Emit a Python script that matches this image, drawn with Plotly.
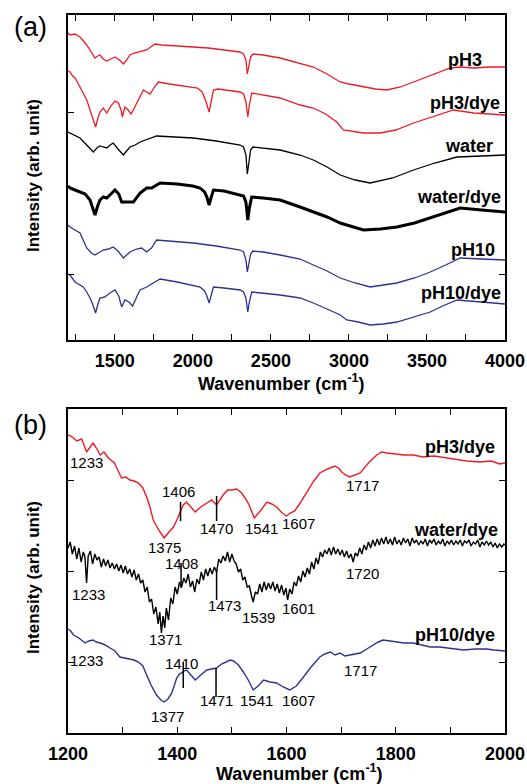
import plotly.graph_objects as go

W, H = 527, 784

# ---------------- Panel (a) data (arbitrary offset intensity) ----------------
a_ph3_x = [1200,1213,1245,1277,1320,1350,1373,1390,1405,1425,1448,1475,1501,1530,1555,1575,1597,1625,1651,1680,1704,1730,1758,1800,1900,2000,2100,2200,2300,2325,2340,2349,2358,2370,2385,2450,2559,2687,2772,2860,2944,3000,3093,3170,3243,3330,3414,3530,3649,3713,3800,3900,4000]
a_ph3_y = [307,305,306,303,295,287,282,284,285,281,279,281,283,280,276,280,285,287,288,289,290,293,296,295,294,293,292,290,288,286,280,266,272,283,286,285,282,277,273,266,258,256,253,251,250,253,258,265,272,273,272,273,273]

a_ph3dye_x = [1200,1213,1230,1245,1260,1280,1298,1320,1341,1360,1377,1392,1405,1426,1448,1475,1501,1523,1540,1548,1565,1585,1604,1625,1651,1683,1704,1726,1750,1779,1850,1950,2030,2060,2085,2104,2118,2132,2160,2250,2303,2325,2340,2352,2362,2377,2450,2559,2687,2772,2850,2922,2965,3093,3200,3300,3414,3550,3670,3800,3900,4000]
a_ph3dye_y = [269,268,264,262,258,252,248,240,230,220,213,222,228,232,227,234,239,237,230,223,233,230,226,232,240,250,248,246,252,258,256,254,252,248,238,228,238,250,251,249,248,246,238,223,235,247,245,242,235,232,226,218,210,207,207,210,217,224,230,227,226,225]

a_water_x = [1200,1213,1277,1320,1362,1385,1405,1425,1448,1470,1490,1520,1555,1575,1597,1630,1662,1768,1900,2003,2150,2303,2325,2340,2349,2358,2370,2385,2450,2559,2687,2772,2860,2944,3040,3136,3280,3414,3550,3692,3850,4000]
a_water_y = [208,207,202,195,188,192,194,193,192,195,197,191,185,189,193,195,198,204,203,202,199,195,193,185,166,175,190,193,192,190,185,180,173,165,160,157,162,170,177,183,184,185]

a_waterdye_x = [1200,1213,1245,1277,1310,1341,1360,1373,1390,1405,1426,1448,1475,1501,1525,1544,1576,1619,1662,1704,1736,1790,1900,2000,2046,2075,2090,2104,2118,2132,2200,2303,2325,2340,2352,2362,2377,2450,2559,2687,2772,2860,2944,3093,3200,3307,3420,3521,3620,3713,3850,4000]
a_waterdye_y = [154,152,150,148,146,140,132,125,134,140,143,142,146,150,146,138,138,138,147,152,152,157,156,154,152,148,143,135,143,150,149,145,144,138,120,132,143,142,140,133,128,123,117,110,111,113,117,122,127,132,130,128]

a_ph10_x = [1200,1213,1245,1277,1320,1350,1373,1400,1426,1460,1490,1520,1555,1575,1597,1640,1672,1704,1735,1768,1900,2003,2150,2303,2325,2340,2349,2358,2370,2385,2450,2559,2687,2772,2860,2944,3040,3136,3220,3307,3420,3521,3620,3713,3850,4000]
a_ph10_y = [115,113,110,107,92,87,85,88,90,91,93,89,82,85,88,91,92,88,92,100,98,97,94,90,88,80,68,75,86,89,88,85,81,75,69,62,57,53,55,57,62,68,75,82,81,80]

a_ph10dye_x = [1200,1213,1245,1270,1298,1320,1341,1360,1377,1392,1405,1437,1469,1501,1525,1544,1565,1590,1614,1640,1662,1704,1750,1790,1900,2000,2046,2075,2090,2104,2118,2132,2200,2303,2325,2340,2352,2362,2377,2450,2559,2687,2772,2860,2944,2986,3060,3136,3220,3307,3420,3521,3600,3692,3850,4000]
a_ph10dye_y = [66,65,58,56,53,48,42,35,27,36,42,43,47,50,44,33,40,38,34,43,50,53,57,61,58,55,53,49,44,37,45,53,52,50,48,42,28,38,48,47,45,42,37,31,25,20,18,15,16,18,23,28,34,40,38,36]

a_names = ["pH3", "pH3/dye", "water", "water/dye", "pH10", "pH10/dye"]
a_label_x = [3867, 3982, 3937, 3988, 3950, 3988]
a_label_y = [280, 237, 194, 143, 90, 47]

# ---------------- Panel (b) data ----------------
b_ph3dye_x = [1200,1208,1216,1225,1234,1240,1246,1252,1259,1266,1274,1285,1298,1306,1313,1321,1329,1337,1344,1350,1356,1366,1376,1385,1393,1400,1406,1411,1417,1425,1433,1443,1454,1463,1472,1478,1484,1492,1500,1509,1518,1530,1541,1552,1564,1573,1582,1592,1600,1607,1615,1625,1640,1650,1661,1675,1689,1695,1701,1708,1716,1725,1735,1750,1765,1775,1783,1800,1815,1832,1850,1870,1893,1910,1930,1954,1975,1990,2000]
b_ph3dye_y = [298,296,292,294,281,286,290,285,278,281,275,270,255,256,253,252,250,245,236,226,213,203,195,201,206,214,221,228,231,226,221,226,230,233,228,233,238,243,243,244,240,230,215,222,231,229,226,220,217,220,222,230,243,252,260,264,267,265,261,258,256,258,260,270,278,281,280,279,278,278,276,277,275,274,272,271,272,269,270]

# water/dye (b): (wavenumber, intensity) pairs
b_waterdye = [
    (1200,185),(1204,191),(1208,179),(1212,187),(1216,174),(1220,185),(1224,171),(1228,181),
    (1231,176),(1234,150),(1237,177),(1241,182),(1245,169),(1249,179),(1253,173),(1257,176),
    (1261,166),(1265,174),(1269,167),(1273,173),(1277,165),(1281,170),(1285,164),(1289,169),
    (1293,162),(1297,168),(1301,160),(1305,167),(1309,159),(1313,164),(1317,156),(1321,163),
    (1325,153),(1329,159),(1333,150),(1337,153),(1341,141),(1345,146),(1349,131),(1353,134),
    (1357,119),(1361,126),(1365,109),(1368,121),(1371,100),(1374,117),(1377,105),(1380,125),
    (1384,113),(1388,135),(1392,129),(1396,146),(1400,139),(1404,151),(1408,146),(1412,155),
    (1416,150),(1420,159),(1424,146),(1428,152),(1432,141),(1436,154),(1440,149),(1444,161),
    (1448,153),(1452,164),(1456,157),(1460,165),(1464,159),(1468,166),(1472,161),(1476,174),
    (1480,170),(1484,177),(1488,172),(1492,181),(1496,171),(1500,179),(1504,172),(1508,169),
    (1512,161),(1516,164),(1520,153),(1524,156),(1528,146),(1532,147),(1536,137),(1539,131),
    (1543,141),(1547,139),(1551,149),(1555,141),(1559,151),(1563,143),(1567,150),(1571,144),
    (1575,151),(1579,142),(1583,149),(1587,140),(1591,148),(1595,138),(1599,145),(1602,133),
    (1606,144),(1610,139),(1614,151),(1618,147),(1622,157),(1626,151),(1630,162),(1634,156),
    (1638,165),(1642,159),(1646,171),(1650,164),(1654,175),(1658,169),(1662,181),(1666,176),
    (1670,183),(1674,179),(1678,185),(1682,178),(1686,186),(1690,179),(1694,184),(1698,178),
    (1702,183),(1706,176),(1710,182),(1714,175),(1718,179),(1722,171),(1726,180),(1730,177),
    (1734,185),(1738,179),(1742,188),(1746,183),(1750,191),(1754,185),(1758,193),(1762,187),
    (1766,194),(1770,188),(1774,195),(1778,189),(1782,196),(1786,189),(1790,194),(1794,188),
    (1798,196),(1802,189),(1806,193),(1810,188),(1814,195),(1818,190),(1822,194),(1826,187),
    (1830,195),(1834,190),(1838,193),(1842,188),(1846,192),(1850,189),(1854,194),(1858,187),
    (1862,193),(1866,190),(1870,194),(1874,188),(1878,192),(1882,189),(1886,194),(1890,187),
    (1894,192),(1898,189),(1902,193),(1906,188),(1910,192),(1914,189),(1918,193),(1922,187),
    (1926,192),(1930,190),(1934,193),(1938,187),(1942,191),(1946,189),(1950,193),(1954,186),
    (1958,191),(1962,188),(1966,192),(1970,188),(1974,191),(1978,186),(1982,190),(1986,185),
    (1990,189),(1994,186),(1998,189),(2000,188),
]
b_waterdye_x = [p[0] for p in b_waterdye]
b_waterdye_y = [p[1] for p in b_waterdye]

b_ph10dye_x = [1200,1205,1210,1220,1231,1238,1246,1252,1259,1268,1277,1286,1295,1304,1313,1321,1329,1337,1344,1352,1362,1370,1376,1383,1390,1395,1399,1404,1408,1412,1417,1425,1433,1443,1454,1463,1472,1481,1491,1497,1503,1512,1521,1530,1539,1548,1558,1570,1582,1594,1606,1618,1631,1645,1661,1670,1680,1689,1698,1707,1716,1725,1735,1747,1759,1768,1777,1790,1802,1815,1832,1850,1863,1880,1893,1910,1924,1945,1966,1980,2000]
b_ph10dye_y = [104,102,98,95,90,92,93,91,90,88,85,82,76,75,74,73,71,67,58,48,38,33,31,34,40,48,55,59,60,62,63,58,53,58,63,64,65,69,72,73,72,68,61,53,43,47,53,51,50,46,43,47,56,66,76,79,81,78,80,77,78,79,80,84,88,91,93,92,91,90,90,88,86,86,85,84,83,84,84,83,82]

b_names = ["pH3/dye", "water/dye", "pH10/dye"]
b_label_x = [1986, 1991, 1986]
b_label_y = [286, 203, 98]

peak_text = ["1233","1406","1375","1470","1541","1607","1717",
             "1233","1408","1371","1473","1539","1601","1720",
             "1233","1410","1377","1471","1541","1607","1717"]
peak_x = [1233,1403,1376,1472,1555,1622,1740,
          1237,1408,1378,1487,1548,1622,1739,
          1234,1408,1382,1472,1545,1622,1735]
peak_y = [270,241,186,205,205,210,247,
          139,170,94,128,116,125,160,
          73,70,17,33,33,33,63]

mark_x = [1406, 1472, 1407, 1472, 1411, 1471]
mark_top = [231, 237, 170, 163, 71, 65]
mark_bot = [212, 212, 145, 133, 45, 36]

RED = "#ed1c24"
BLK = "#000000"
BLU = "#2e3192"
FONT = "Liberation Sans, Arial, sans-serif"

fig = go.Figure()

a_sets = [(a_ph3_x, a_ph3_y, RED, 1.3), (a_ph3dye_x, a_ph3dye_y, RED, 1.3),
          (a_water_x, a_water_y, BLK, 1.3), (a_waterdye_x, a_waterdye_y, BLK, 3.0),
          (a_ph10_x, a_ph10_y, BLU, 1.3), (a_ph10dye_x, a_ph10dye_y, BLU, 1.3)]
for (xs, ys, c, w), n in zip(a_sets, a_names):
    fig.add_trace(go.Scatter(x=xs, y=ys, mode="lines", line=dict(color=c, width=w),
                             name=n, xaxis="x", yaxis="y", showlegend=False))

b_sets = [(b_ph3dye_x, b_ph3dye_y, RED), (b_waterdye_x, b_waterdye_y, BLK),
          (b_ph10dye_x, b_ph10dye_y, BLU)]
for (xs, ys, c), n in zip(b_sets, b_names):
    fig.add_trace(go.Scatter(x=xs, y=ys, mode="lines", line=dict(color=c, width=1.4),
                             name=n, xaxis="x2", yaxis="y2", showlegend=False))

# peak marker lines
mx, my = [], []
for x0, t, b in zip(mark_x, mark_top, mark_bot):
    mx += [x0, x0, None]
    my += [t, b, None]
fig.add_trace(go.Scatter(x=mx, y=my, mode="lines", line=dict(color=BLK, width=1.5),
                         xaxis="x2", yaxis="y2", showlegend=False, hoverinfo="skip"))

ann = []
for t, x0, y0 in zip(a_names, a_label_x, a_label_y):
    ann.append(dict(x=x0, y=y0, xref="x", yref="y", text=t, showarrow=False,
                    xanchor="right", yanchor="middle",
                    font=dict(family=FONT, size=18, color=BLK, weight="bold")))
for t, x0, y0 in zip(b_names, b_label_x, b_label_y):
    ann.append(dict(x=x0, y=y0, xref="x2", yref="y2", text=t, showarrow=False,
                    xanchor="right", yanchor="middle",
                    font=dict(family=FONT, size=18, color=BLK, weight="bold")))
for t, x0, y0 in zip(peak_text, peak_x, peak_y):
    ann.append(dict(x=x0, y=y0, xref="x2", yref="y2", text=t, showarrow=False,
                    xanchor="center", yanchor="middle",
                    font=dict(family=FONT, size=15, color=BLK)))

def pap(px, py):
    return px / W, 1 - py / H

for txt, (px, py) in [("(a)", (30, 27)), ("(b)", (30, 425))]:
    xx, yy = pap(px, py)
    ann.append(dict(x=xx, y=yy, xref="paper", yref="paper", text=txt, showarrow=False,
                    xanchor="center", yanchor="middle",
                    font=dict(family=FONT, size=27, color=BLK)))
for (px, py) in [(281, 382), (299, 772)]:
    xx, yy = pap(px, py)
    ann.append(dict(x=xx, y=yy, xref="paper", yref="paper",
                    text="Wavenumber (cm<sup>-1</sup>)", showarrow=False,
                    xanchor="center", yanchor="middle",
                    font=dict(family=FONT, size=18, color=BLK, weight="bold")))
for (px, py) in [(33, 176), (33, 578)]:
    xx, yy = pap(px, py)
    ann.append(dict(x=xx, y=yy, xref="paper", yref="paper",
                    text="Intensity (arb. unit)", showarrow=False, textangle=-90,
                    xanchor="center", yanchor="middle",
                    font=dict(family=FONT, size=17, color=BLK, weight="bold")))

common_x = dict(showline=True, linecolor=BLK, linewidth=1.5, mirror="ticks",
                ticks="inside", ticklen=6, tickwidth=1.2, tickcolor=BLK,
                showgrid=False, zeroline=False, automargin=False,
                tickfont=dict(family=FONT, size=18, color=BLK, weight="bold"),
                ticklabelstandoff=4)
common_y = dict(showline=True, linecolor=BLK, linewidth=1.5, mirror="ticks",
                ticks="inside", ticklen=6, tickwidth=1.2, tickcolor=BLK,
                showgrid=False, zeroline=False, showticklabels=False, automargin=False)

fig.update_layout(
    width=W, height=H, margin=dict(l=0, r=0, t=0, b=0, autoexpand=False),
    paper_bgcolor="white", plot_bgcolor="white",
    xaxis=dict(domain=[68 / W, 505 / W], range=[1200, 4000], anchor="y",
               tickvals=[1500, 2000, 2500, 3000, 3500, 4000],
               minor=dict(tickvals=[1250, 1750, 2250, 2750, 3250, 3750], ticks="inside",
                          ticklen=6, tickcolor=BLK, showgrid=False),
               **common_x),
    yaxis=dict(domain=[1 - 340 / H, 1 - 15 / H], range=[0, 325], anchor="x",
               tickvals=[66, 228], **common_y),
    xaxis2=dict(domain=[68 / W, 505 / W], range=[1200, 2000], anchor="y2",
                tickvals=[1200, 1400, 1600, 1800, 2000],
                minor=dict(tickvals=[1300, 1500, 1700, 1900], ticks="inside",
                           ticklen=6, tickcolor=BLK, showgrid=False),
                **common_x),
    yaxis2=dict(domain=[1 - 733 / H, 1 - 409 / H], range=[0, 324], anchor="x2",
                tickvals=[71, 162, 253], **common_y),
    annotations=ann,
)

fig.write_html("out.html")
